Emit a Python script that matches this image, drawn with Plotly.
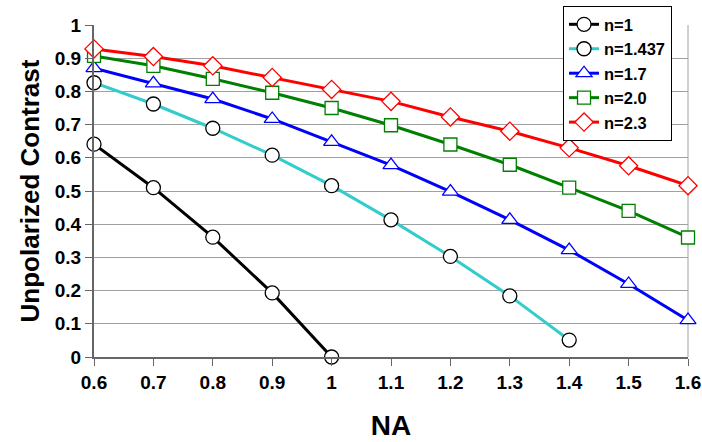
import plotly.graph_objects as go

na = [0.6, 0.7, 0.8, 0.9, 1.0, 1.1, 1.2, 1.3, 1.4, 1.5, 1.6]
n1 = [0.641, 0.510, 0.361, 0.193, 0.0]
n1437 = [0.826, 0.762, 0.689, 0.608, 0.516, 0.413, 0.303, 0.184, 0.051]
n17 = [0.870, 0.824, 0.777, 0.717, 0.648, 0.578, 0.498, 0.413, 0.322, 0.220, 0.111]
n20 = [0.907, 0.877, 0.838, 0.796, 0.750, 0.698, 0.640, 0.579, 0.510, 0.440, 0.360]
n23 = [0.928, 0.905, 0.877, 0.842, 0.806, 0.770, 0.723, 0.680, 0.630, 0.576, 0.516]
names = ["n=1", "n=1.437", "n=1.7", "n=2.0", "n=2.3"]
series = [n1, n1437, n17, n20, n23]
colors = ["#000000", "#33CCCC", "#0000FF", "#008000", "#FF0000"]
mcolors = ["#000000", "#000000", "#0000FF", "#008000", "#FF0000"]
symbols = ["circle", "circle", "triangle-up", "square", "diamond"]
msizes = [14, 14, 14, 13, 14]

fig = go.Figure()
for name, ys, c, mc, s, ms in zip(names, series, colors, mcolors, symbols, msizes):
    fig.add_trace(go.Scatter(
        x=na[:len(ys)], y=ys, name=name, mode="lines+markers",
        line=dict(color=c, width=3),
        marker=dict(symbol=s, size=ms, color="white",
                    line=dict(color=mc, width=1.3)),
        cliponaxis=False,
    ))

font = "Liberation Sans, Arial, sans-serif"
fig.update_layout(
    width=702, height=442,
    margin=dict(l=94, r=14, t=25, b=85, autoexpand=False),
    paper_bgcolor="white", plot_bgcolor="white",
    font=dict(family=font, color="black", size=19),
    showlegend=True,
    legend=dict(x=0.7896, y=1.057, xanchor="left", yanchor="top",
                bgcolor="white", bordercolor="black", borderwidth=1,
                font=dict(family=font, size=16.5, color="black", weight="bold"),
                tracegroupgap=0, itemwidth=30),
    xaxis=dict(range=[0.6, 1.6], tickvals=na, automargin=False,
               ticktext=["0.6", "0.7", "0.8", "0.9", "1", "1.1", "1.2", "1.3", "1.4", "1.5", "1.6"],
               showgrid=False, zeroline=False, showline=True, linecolor="#666666", linewidth=2,
               ticks="outside", ticklen=7, tickcolor="#666666", tickwidth=1,
               tickfont=dict(family=font, size=19, weight="bold"),
               title=dict(text="NA", font=dict(family=font, size=28, weight="bold"), standoff=24)),
    yaxis=dict(range=[0, 1], tickvals=[0, 0.1, 0.2, 0.3, 0.4, 0.5, 0.6, 0.7, 0.8, 0.9, 1],
               ticktext=["0", "0.1", "0.2", "0.3", "0.4", "0.5", "0.6", "0.7", "0.8", "0.9", "1"],
               automargin=False,
               showgrid=True, gridcolor="#A0A0A0", gridwidth=1, zeroline=False,
               showline=True, linecolor="#666666", linewidth=2,
               ticks="outside", ticklen=7, tickcolor="#666666", tickwidth=1,
               tickfont=dict(family=font, size=19, weight="bold"),
               title=dict(text="Unpolarized Contrast", font=dict(family=font, size=26, weight="bold"), standoff=8)),
    shapes=[dict(type="line", xref="paper", yref="paper", x0=1, x1=1, y0=0, y1=1,
                 line=dict(color="#A0A0A0", width=1), layer="below")],
)

fig.write_html("out.html")
